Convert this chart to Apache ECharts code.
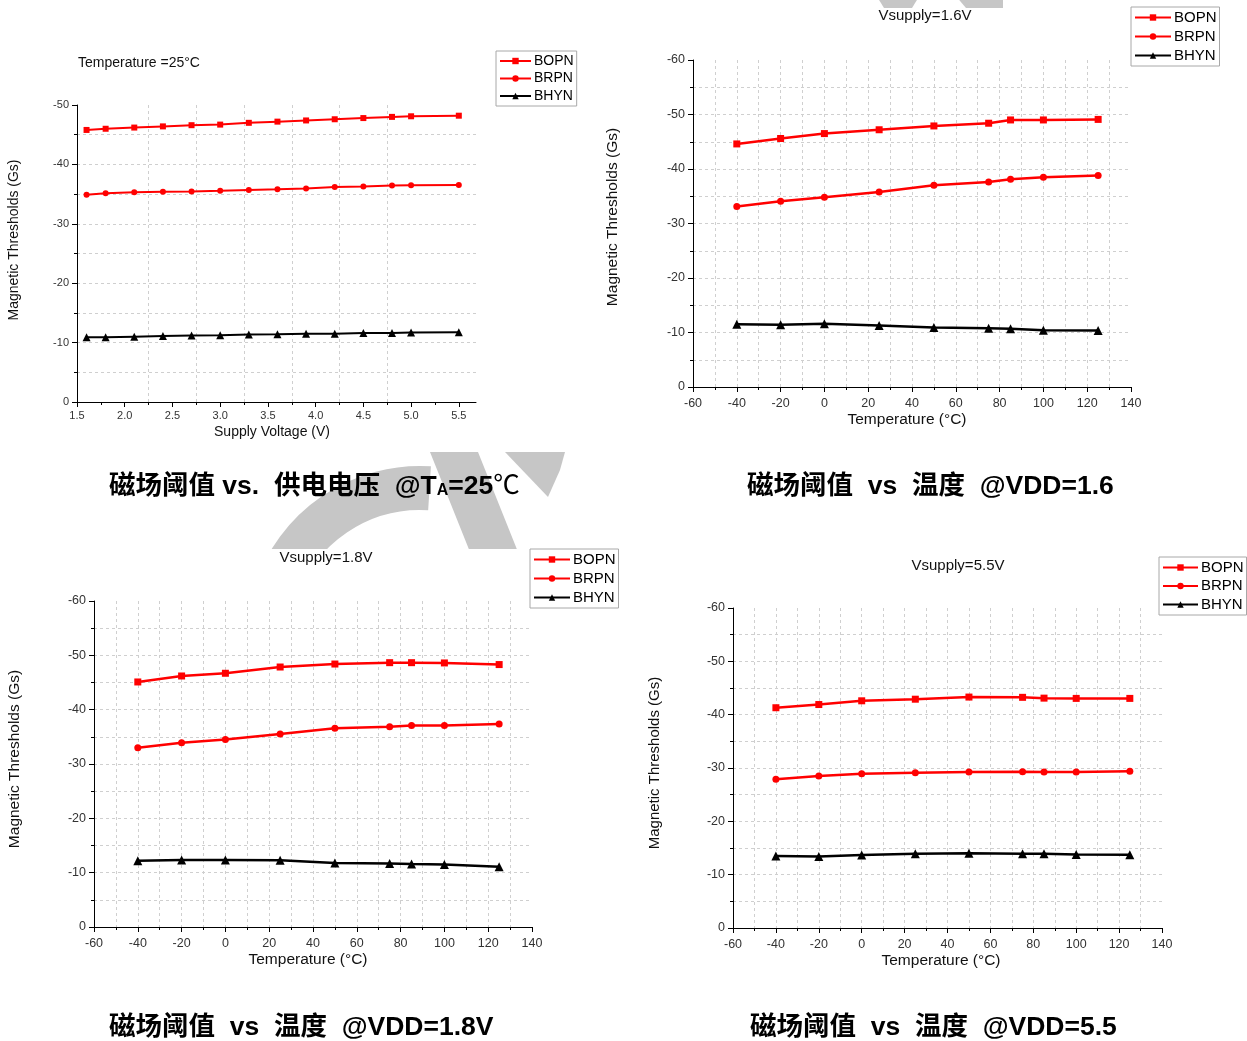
<!DOCTYPE html>
<html><head><meta charset="utf-8">
<script src="https://cdn.jsdelivr.net/npm/echarts@6/dist/echarts.min.js"></script>
<style>html,body{margin:0;padding:0;background:#fff}#c{width:1247px;height:1041px}</style>
</head><body><div id="c"></div>
<script>
// ---------- data ----------
const seriesNames = ['BOPN', 'BRPN', 'BHYN'];

// Panel 1: thresholds vs supply voltage @ 25°C
const voltage = [1.6, 1.8, 2.1, 2.4, 2.7, 3.0, 3.3, 3.6, 3.9, 4.2, 4.5, 4.8, 5.0, 5.5];
const vBOPN = [-45.8, -46.0, -46.2, -46.4, -46.6, -46.7, -47.0, -47.2, -47.4, -47.6, -47.8, -48.0, -48.1, -48.2];
const vBRPN = [-34.9, -35.15, -35.3, -35.4, -35.45, -35.55, -35.7, -35.8, -35.95, -36.2, -36.3, -36.45, -36.5, -36.55];
const vBHYN = [-10.9, -10.9, -11.0, -11.1, -11.2, -11.25, -11.35, -11.4, -11.5, -11.5, -11.6, -11.6, -11.7, -11.75];
const voltageTicks = [1.5, 2.0, 2.5, 3.0, 3.5, 4.0, 4.5, 5.0, 5.5];
const voltageMinorTicks = [1.75, 2.25, 2.75, 3.25, 3.75, 4.25, 4.75, 5.25];

// Panels 2-4: thresholds vs temperature
const temperature = [-40, -20, 0, 25, 50, 75, 85, 100, 125];
const t16BOPN = [-44.6, -45.6, -46.5, -47.2, -47.9, -48.4, -49.0, -49.0, -49.1];
const t16BRPN = [-33.1, -34.1, -34.8, -35.8, -37.0, -37.6, -38.1, -38.5, -38.8];
const t16BHYN = [-11.5, -11.4, -11.6, -11.3, -10.9, -10.8, -10.7, -10.4, -10.35];

const t18BOPN = [-45.1, -46.2, -46.7, -47.85, -48.4, -48.65, -48.65, -48.6, -48.3];
const t18BRPN = [-33.0, -33.9, -34.5, -35.5, -36.6, -36.85, -37.1, -37.1, -37.35];
const t18BHYN = [-12.2, -12.35, -12.35, -12.3, -11.8, -11.7, -11.6, -11.5, -11.1];

const t55BOPN = [-41.3, -41.9, -42.6, -42.9, -43.3, -43.25, -43.1, -43.05, -43.05];
const t55BRPN = [-27.9, -28.5, -28.9, -29.1, -29.25, -29.3, -29.25, -29.25, -29.4];
const t55BHYN = [-13.5, -13.4, -13.7, -13.9, -14.0, -13.9, -13.9, -13.8, -13.75];

const panelTitles = ['Temperature =25°C', 'Vsupply=1.6V', 'Vsupply=1.8V', 'Vsupply=5.5V'];
const xNames = ['Supply Voltage (V)', 'Temperature (°C)', 'Temperature (°C)', 'Temperature (°C)'];
const yName = 'Magnetic Thresholds (Gs)';

// ---------- styling / layout ----------
const LAT = '"Liberation Sans", Arial, sans-serif';
const CJK = '"Liberation Sans", "Noto Sans CJK SC", sans-serif';
const RED = '#ff0000', BLACK = '#000000';
const colors = [RED, RED, BLACK];
const symbols = ['rect', 'circle', 'triangle'];
const gridLine = { color: '#cfcfcf', width: 1, type: [3, 3] };
const WM = '#c6c6c6';

const layouts = [
  { grid: { left: 77, top: 105, width: 399, height: 297 }, ymin: -50, tickFont: 11, sym: 6, lw: 2, xm: 8,
    legend: { left: 496, top: 51, itemWidth: 31, gap: 3.5, font: 14 } },
  { grid: { left: 693, top: 60, width: 438, height: 327 }, ymin: -60, tickFont: 12.5, sym: 7, lw: 2.5, xm: 10,
    legend: { left: 1131, top: 7, itemWidth: 36, gap: 4, font: 15 } },
  { grid: { left: 94, top: 601, width: 438, height: 326 }, ymin: -60, tickFont: 12.5, sym: 7, lw: 2.5, xm: 10,
    legend: { left: 530, top: 549, itemWidth: 36, gap: 4, font: 15 } },
  { grid: { left: 733, top: 608, width: 429, height: 320 }, ymin: -60, tickFont: 12.5, sym: 7, lw: 2.5, xm: 10,
    legend: { left: 1159, top: 557, itemWidth: 35, gap: 3.5, font: 15 } }
];

const panelData = [
  { x: voltage, ys: [vBOPN, vBRPN, vBHYN] },
  { x: temperature, ys: [t16BOPN, t16BRPN, t16BHYN] },
  { x: temperature, ys: [t18BOPN, t18BRPN, t18BHYN] },
  { x: temperature, ys: [t55BOPN, t55BRPN, t55BHYN] }
];

const grids = [], xAxes = [], yAxes = [], series = [], legends = [];

layouts.forEach((L, i) => {
  grids.push(Object.assign({ containLabel: false }, L.grid));
  const xAxisIndex = xAxes.length;
  if (i === 0) {
    xAxes.push({
      gridIndex: i, type: 'value', position: 'bottom', min: 1.5, max: 5.68, interval: 0.5,
      axisLine: { show: true, onZero: false, lineStyle: { color: '#000', width: 1 } },
      axisTick: { show: true, length: 5, customValues: voltageTicks, lineStyle: { color: '#000' } },
      axisLabel: { show: true, customValues: voltageTicks, formatter: v => Number(v).toFixed(1),
        fontSize: L.tickFont, color: '#333', fontFamily: LAT, margin: L.xm },
      splitLine: { show: false }
    });
    xAxes.push({
      gridIndex: i, type: 'value', position: 'bottom', min: 1.5, max: 5.68, interval: 0.25,
      axisLine: { show: false, onZero: false },
      axisTick: { show: true, length: 3, customValues: voltageMinorTicks, lineStyle: { color: '#000' } },
      axisLabel: { show: false },
      splitLine: { show: true, showMinLine: false, showMaxLine: false, lineStyle: gridLine }
    });
  } else {
    xAxes.push({
      gridIndex: i, type: 'value', position: 'bottom', min: -60, max: 140, interval: 20,
      axisLine: { show: true, onZero: false, lineStyle: { color: '#000', width: 1 } },
      axisTick: { show: true, length: 5, lineStyle: { color: '#000' } },
      minorTick: { show: true, splitNumber: 2, length: 3, lineStyle: { color: '#000' } },
      axisLabel: { fontSize: L.tickFont, color: '#333', fontFamily: LAT, margin: L.xm },
      splitLine: { show: true, showMinLine: false, showMaxLine: false, lineStyle: gridLine },
      minorSplitLine: { show: true, lineStyle: gridLine }
    });
  }
  const yAxisIndex = yAxes.length;
  yAxes.push({
    gridIndex: i, type: 'value', inverse: true, min: L.ymin, max: 0, interval: 10,
    axisLine: { show: true, onZero: false, lineStyle: { color: '#000', width: 1 } },
    axisTick: { show: true, length: 5, lineStyle: { color: '#000' } },
    minorTick: { show: true, splitNumber: 2, length: 3, lineStyle: { color: '#000' } },
    axisLabel: { fontSize: L.tickFont, color: '#333', fontFamily: LAT, margin: 8 },
    splitLine: { show: true, showMinLine: false, showMaxLine: false, lineStyle: gridLine },
    minorSplitLine: { show: true, lineStyle: gridLine }
  });
  const D = panelData[i];
  seriesNames.forEach((name, k) => {
    series.push({
      name, type: 'line', xAxisIndex, yAxisIndex,
      data: D.x.map((xv, j) => [xv, D.ys[k][j]]),
      symbol: symbols[k], symbolSize: k === 2 ? L.sym + 2 : L.sym,
      showAllSymbol: true, animation: false,
      lineStyle: { color: colors[k], width: L.lw },
      itemStyle: { color: colors[k] },
      z: k === 2 ? 3 : 4
    });
  });
  legends.push({
    show: true, orient: 'vertical', left: L.legend.left, top: L.legend.top,
    padding: [3, 3, 3, 3], itemGap: L.legend.gap, itemWidth: L.legend.itemWidth, itemHeight: 8,
    borderColor: '#a8a8a8', borderWidth: 1, backgroundColor: '#fff',
    selectedMode: false, data: seriesNames,
    textStyle: { fontSize: L.legend.font, color: '#000', fontFamily: LAT, padding: [0, 0, 0, -2] }
  });
});

// ---------- watermark (grey logo fragments visible between the panels) ----------
const graphics = [];
graphics.push({ type: 'arc', z: -20, silent: true,
  shape: { cx: 420, cy: 640, r: 152, startAngle: Math.PI * 1.1, endAngle: Math.PI * 1.52 },
  style: { stroke: WM, lineWidth: 44, fill: null } });
graphics.push({ type: 'polygon', z: -20, silent: true,
  shape: { points: [[430, 452], [478, 452], [518, 552], [470, 552]] }, style: { fill: WM } });
graphics.push({ type: 'polygon', z: -20, silent: true,
  shape: { points: [[505, 452], [565, 452], [560, 470], [548, 497]] }, style: { fill: WM } });
graphics.push({ type: 'polygon', z: -20, silent: true,
  shape: { points: [[876, -5], [920, -5], [912, 8], [884, 8]] }, style: { fill: WM } });
graphics.push({ type: 'polygon', z: -20, silent: true,
  shape: { points: [[955, -5], [1003, -5], [1003, 8], [966, 8]] }, style: { fill: WM } });
// white backgrounds of the four plot pictures (hide the watermark under them)
[[0, 8, 600, 440], [640, 8, 607, 440], [0, 549, 625, 440], [640, 549, 607, 440]].forEach(r => {
  graphics.push({ type: 'rect', z: -10, silent: true,
    shape: { x: r[0], y: r[1], width: r[2], height: r[3] }, style: { fill: '#fff' } });
});

// ---------- texts ----------
function txt(x, y, text, size, opts) {
  opts = opts || {};
  graphics.push({
    type: 'text', x, y, rotation: opts.rot || 0, z: 10,
    style: Object.assign({
      text, fontSize: size, fontFamily: opts.family || LAT, fontWeight: opts.weight || 'normal',
      fill: opts.color || '#111', align: opts.align || 'center', verticalAlign: 'middle',
      textAlign: opts.align || 'center', textVerticalAlign: 'middle'
    }, opts.extra || {})
  });
}
// panel titles
txt(78, 63, panelTitles[0], 14, { align: 'left' });
txt(925, 16, panelTitles[1], 15);
txt(326, 558, panelTitles[2], 15);
txt(958, 566, panelTitles[3], 15);
// x axis names
txt(272, 432, xNames[0], 14);
txt(907, 420, xNames[1], 15.5);
txt(308, 960, xNames[2], 15.5);
txt(941, 961, xNames[3], 15.5);
// y axis names
txt(14, 240, yName, 14, { rot: Math.PI / 2 });
txt(613, 217, yName, 15.5, { rot: Math.PI / 2 });
txt(15, 759, yName, 15.5, { rot: Math.PI / 2 });
txt(655, 763, yName, 15, { rot: Math.PI / 2 });

// captions
const capRich = {
  m: { fontSize: 26.5, fontWeight: 'bold', fontFamily: CJK, fill: '#000', color: '#000', verticalAlign: 'bottom', lineHeight: 30 },
  s: { fontSize: 16, fontWeight: 'bold', fontFamily: CJK, fill: '#000', color: '#000', verticalAlign: 'bottom', lineHeight: 30, padding: [0, 0, 1, 0] },
  c: { fontSize: 26.5, fontWeight: 'normal', fontFamily: CJK, fill: '#000', color: '#000', verticalAlign: 'bottom', lineHeight: 30 }
};
function caption(x, y, text) {
  graphics.push({
    type: 'text', x, y, z: 10,
    style: { text, rich: capRich, align: 'left', verticalAlign: 'middle', textAlign: 'left', textVerticalAlign: 'middle' }
  });
}
caption(109, 485, '{m|磁场阈值 vs.  供电电压  @T}{s|A}{m|=25}{c|℃}');
caption(747, 485, '{m|磁场阈值  vs  温度  @VDD=1.6}');
caption(109, 1026, '{m|磁场阈值  vs  温度  @VDD=1.8V}');
caption(750, 1026, '{m|磁场阈值  vs  温度  @VDD=5.5}');

const chart = echarts.init(document.getElementById('c'), null, { renderer: 'canvas' });
chart.setOption({
  backgroundColor: '#ffffff',
  animation: false,
  grid: grids, xAxis: xAxes, yAxis: yAxes, series, legend: legends,
  graphic: graphics
});
</script></body></html>
